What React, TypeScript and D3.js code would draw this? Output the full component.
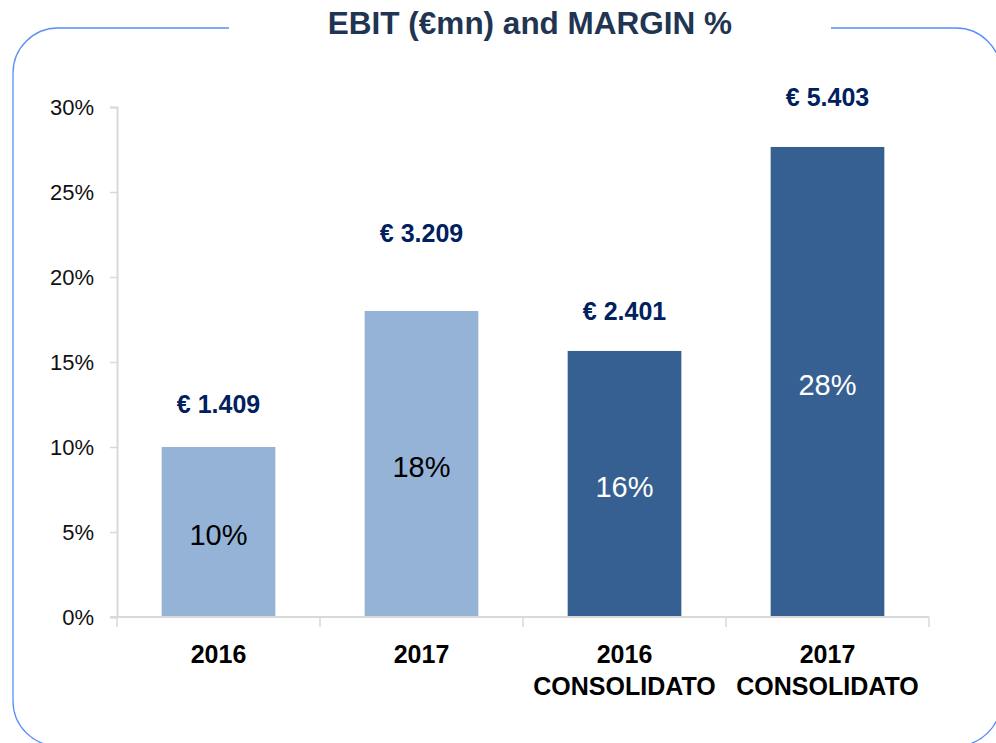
import React from 'react'
import * as d3 from 'd3'

const categories = ['2016', '2017', '2016 CONSOLIDATO', '2017 CONSOLIDATO']
const margins = [0.10, 0.18, 0.1565, 0.2765]
const marginLabels = ['10%', '18%', '16%', '28%']
const ebitLabels = ['€ 1.409', '€ 3.209', '€ 2.401', '€ 5.403']
// level (in % axis units) where each EBIT label sits
const ebitLevels = [0.125, 0.226, 0.18, 0.306]
const consolidated = [false, false, true, true]
const yTicks = [0, 0.05, 0.1, 0.15, 0.2, 0.25, 0.3]

const W = 996
const H = 743

export default function App() {
  const x = d3.scaleBand<string>()
    .domain(categories)
    .range([117, 929])
    .paddingInner(0.44)
    .paddingOuter(0.22)

  const y = d3.scaleLinear()
    .domain([0, 0.3])
    .range([617, 107])

  const yAxis = d3.axisLeft(y)
    .tickValues(yTicks)
    .tickSize(7)
    .tickPadding(16)
    .tickFormat(d3.format('.0%'))

  const step = x.step()
  const boundaries = d3.range(categories.length + 1).map(i => 117 + i * step)

  return (
    <svg width={W} height={H} style={{ position: 'absolute', left: 0, top: 0, background: '#fff' }}>
      {/* frame with a gap for the title */}
      <rect x={13} y={28} width={988} height={718} rx={45} ry={45}
        fill="none" stroke="#5b8ff9" strokeWidth={1.3} />
      <rect x={229} y={20} width={602} height={16} fill="#fff" />
      <text x={530} y={34} textAnchor="middle" fontFamily="Liberation Sans, Arial, sans-serif"
        fontWeight="bold" fontSize={31.5} fill="#1f3552">EBIT (€mn) and MARGIN %</text>

      {/* y axis */}
      <g
        transform="translate(117,0)"
        ref={(node) => {
          if (!node) return
          const g = d3.select(node)
          g.call(yAxis)
          g.select('.domain').attr('stroke', '#d9d9d9').attr('stroke-width', 2)
          g.selectAll('.tick line').attr('stroke', '#d9d9d9').attr('stroke-width', 1.5)
          g.selectAll('.tick text')
            .attr('font-family', 'Liberation Sans, Arial, sans-serif')
            .attr('font-size', 22)
            .attr('fill', '#111')
        }}
      />

      {/* bars */}
      {categories.map((c, i) => (
        <rect key={c} x={x(c)} y={y(margins[i])} width={x.bandwidth()}
          height={y(0) - y(margins[i])} fill={consolidated[i] ? '#376092' : '#95b3d7'} />
      ))}

      {/* x axis */}
      <line x1={110} x2={929} y1={y(0)} y2={y(0)} stroke="#d9d9d9" strokeWidth={2} />
      {boundaries.map((b, i) => (
        <line key={i} x1={b} x2={b} y1={y(0)} y2={y(0) + 10} stroke="#d9d9d9" strokeWidth={1.5} />
      ))}

      {/* margin labels inside bars */}
      {categories.map((c, i) => (
        <text key={c} x={(x(c) ?? 0) + x.bandwidth() / 2} y={y(margins[i] / 2) + 3} dy="0.35em"
          textAnchor="middle" fontFamily="Liberation Sans, Arial, sans-serif" fontSize={29}
          fill={consolidated[i] ? '#fff' : '#000'}>{marginLabels[i]}</text>
      ))}

      {/* EBIT labels */}
      {categories.map((c, i) => (
        <text key={c} x={(x(c) ?? 0) + x.bandwidth() / 2} y={y(ebitLevels[i])} dy="0.35em"
          textAnchor="middle" fontFamily="Liberation Sans, Arial, sans-serif" fontWeight="bold"
          fontSize={25} fill="#002060">{ebitLabels[i]}</text>
      ))}

      {/* category labels */}
      {categories.map(c => {
        const parts = c.split(' ')
        return (
          <text key={c} x={(x(c) ?? 0) + x.bandwidth() / 2} y={663} textAnchor="middle"
            fontFamily="Liberation Sans, Arial, sans-serif" fontWeight="bold" fontSize={25} fill="#000">
            {parts.map((p, j) => (
              <tspan key={j} x={(x(c) ?? 0) + x.bandwidth() / 2} dy={j === 0 ? 0 : 32}>{p}</tspan>
            ))}
          </text>
        )
      })}
    </svg>
  )
}
